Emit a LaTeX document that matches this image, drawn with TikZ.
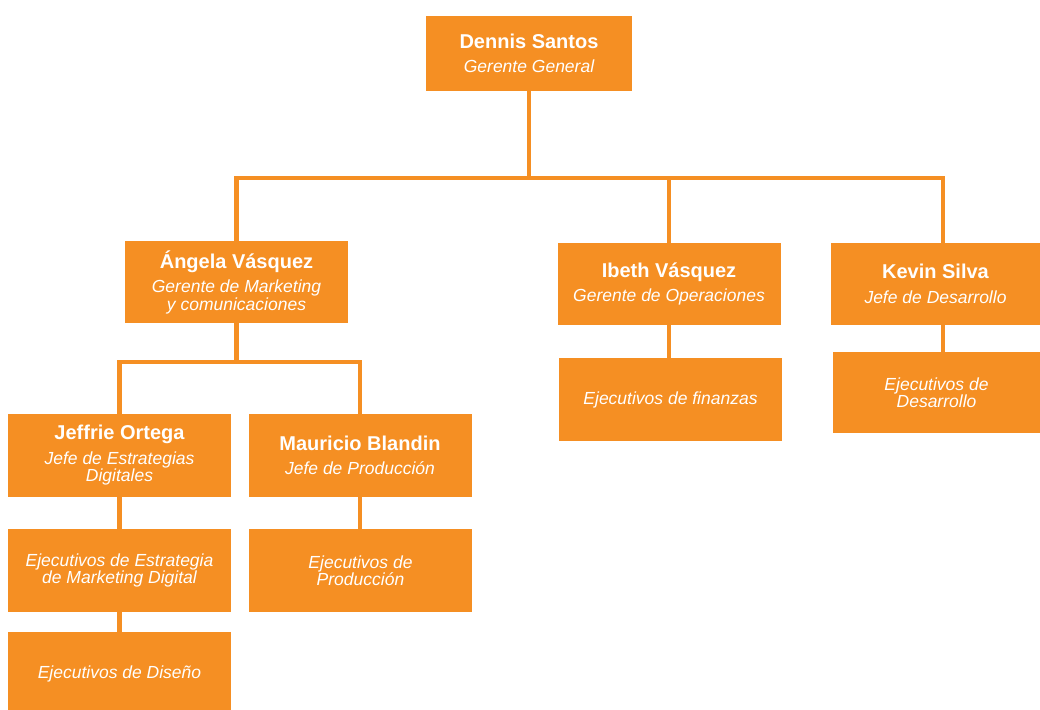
\documentclass[tikz,border=0pt]{standalone}
\usepackage{fontspec}
\setmainfont{Liberation Sans}
\usetikzlibrary{positioning}
\definecolor{naranja}{HTML}{F58F23}
\newcommand{\nombre}[1]{{\upshape\bfseries\fontsize{20}{23}\selectfont #1}\\[7pt]}

\begin{document}
\begin{tikzpicture}[x=1pt, y=-1pt,
  caja/.style={fill=naranja, text=white, align=center, inner sep=0pt, minimum width=223pt, minimum height=82pt,
    font=\itshape\fontsize{17.5}{17.5}\selectfont},
  linea/.style={draw=naranja, line width=4.5pt}]
\useasboundingbox (0,0) rectangle (1040,709);

\node[caja, minimum width=206pt, minimum height=75pt] (dennis) at (529,53.5) {\nombre{Dennis Santos}Gerente General};

\node[caja] (angela) at (236.5,282) {\nombre{Ángela Vásquez}Gerente de Marketing\\ y comunicaciones};
\node[caja] (ibeth) at (669,284) {\nombre{Ibeth Vásquez}Gerente de Operaciones};
\node[caja, minimum width=209pt] (kevin) at (935.5,284) {\nombre{Kevin Silva}Jefe de Desarrollo};

\node[caja, minimum height=83pt] (finanzas) at (670.5,399.5) {Ejecutivos de finanzas};
\node[caja, minimum width=207pt, minimum height=81pt] (desarrollo) at (936.5,392.5) {Ejecutivos de\\ Desarrollo};

\node[caja, minimum height=83pt] (jeffrie) at (119.5,455.5) {\nombre{Jeffrie Ortega}Jefe de Estrategias\\ Digitales};
\node[caja, minimum height=83pt] (mauricio) at (360,455.5) {\nombre{Mauricio Blandin}Jefe de Producción};

\node[caja, minimum height=83pt] (estrategia) at (119.5,570.5) {Ejecutivos de Estrategia\\ de Marketing Digital};
\node[caja, minimum height=83pt] (produccion) at (360.5,570.5) {Ejecutivos de\\ Producción};
\node[caja, minimum height=83pt] (diseno) at (119.5,673.5) {Ejecutivos de Diseño};

% lineas
\draw[linea] (dennis.south) -- ++(0,87) -| (angela.north);
\draw[linea] (dennis.south) -- ++(0,87) -| (ibeth.north);
\draw[linea] (dennis.south) -- ++(0,87) -| ([xshift=7.5pt]kevin.north);
\draw[linea] (angela.south) -- ++(0,39) -| (jeffrie.north);
\draw[linea] (angela.south) -- ++(0,39) -| (mauricio.north);
\draw[linea] (jeffrie) -- (estrategia);
\draw[linea] (estrategia) -- (diseno);
\draw[linea] (mauricio.south) -- (mauricio.south |- produccion.north);
\draw[linea] (ibeth.south) -- (ibeth.south |- finanzas.north);
\draw[linea] ([xshift=7.5pt]kevin.south) -- ([xshift=7.5pt]kevin.south |- desarrollo.north);
\end{tikzpicture}
\end{document}
